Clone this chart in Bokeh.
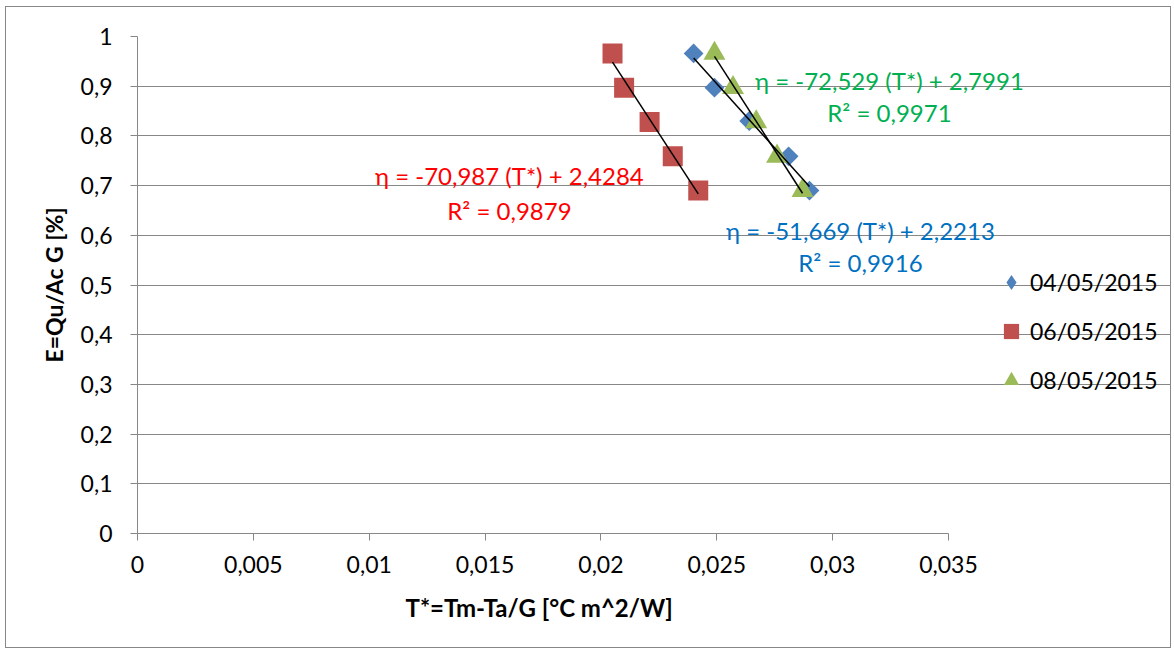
import math
import numpy as np
from bokeh.plotting import figure
from bokeh.models import (Range1d, FixedTicker, Label, Legend, LegendItem, Title)
from bokeh.embed import file_html
from bokeh.resources import INLINE

# ---------------- data ----------------
series_names = ["04/05/2015", "06/05/2015", "08/05/2015"]

x_0405 = [0.0240, 0.0249, 0.0264, 0.0281, 0.0290]
y_0405 = [0.966, 0.897, 0.830, 0.759, 0.690]

x_0605 = [0.0205, 0.0210, 0.0221, 0.0231, 0.0242]
y_0605 = [0.966, 0.897, 0.828, 0.759, 0.690]

x_0805 = [0.0249, 0.0257, 0.0267, 0.0276, 0.0287]
y_0805 = [0.966, 0.897, 0.828, 0.759, 0.690]

eq_texts = ["η = -51,669 (T*) + 2,2213", "η = -70,987 (T*) + 2,4284", "η = -72,529 (T*) + 2,7991"]
r2_texts = ["R² = 0,9916", "R² = 0,9879", "R² = 0,9971"]

x_ticks = [0, 0.005, 0.01, 0.015, 0.02, 0.025, 0.03, 0.035]
x_tick_labels = ["0", "0,005", "0,01", "0,015", "0,02", "0,025", "0,03", "0,035"]
y_ticks = [0, 0.1, 0.2, 0.3, 0.4, 0.5, 0.6, 0.7, 0.8, 0.9, 1]
y_tick_labels = ["0", "0,1", "0,2", "0,3", "0,4", "0,5", "0,6", "0,7", "0,8", "0,9", "1"]

x_title = "T*=Tm-Ta/G [°C  m^2/W]"
y_title = "E=Qu/Ac G [%]"

X_MAX = 0.035   # end of the drawn x axis
Y_MAX = 1.0

# ---------------- styles / positions ----------------
FONT = "Lato"
GRID = "#878787"
marker_colors = ["#4F81BD", "#C0504D", "#9BBB59"]
text_colors = ["#0070C0", "#FF0000", "#00B050"]
# label anchor positions (data units): (x_center, y_eq_baseline, y_r2_baseline)
label_pos = [(0.03120, 0.6097, 0.5459),
             (0.01605, 0.7203, 0.6499),
             (0.03245, 0.9115, 0.8477)]

W, H = 1166, 642
ML, MT, MB = 131, 29, 116
AXIS_PX = 811                       # pixel length of the 0..0.035 axis
frame_w = W - ML
x_end = X_MAX * frame_w / AXIS_PX   # frame extends past the axis, to hold the legend

p = figure(width=W, height=H,
           x_range=Range1d(0, x_end), y_range=Range1d(0, Y_MAX),
           output_backend="svg", toolbar_location=None,
           min_border_left=ML, min_border_right=0,
           min_border_top=MT, min_border_bottom=MB)
p.margin = (6, 0, 0, 5)
p.styles = {"border": "1px solid " + GRID}

p.outline_line_color = None
p.background_fill_color = "white"
p.border_fill_color = "white"

# axes
p.xaxis.ticker = FixedTicker(ticks=x_ticks)
p.yaxis.ticker = FixedTicker(ticks=y_ticks)
p.xaxis.bounds = (0, X_MAX)
p.xaxis.major_label_overrides = {t: l for t, l in zip(x_ticks, x_tick_labels)}
p.yaxis.major_label_overrides = {t: l for t, l in zip(y_ticks, y_tick_labels)}
for ax in (p.xaxis, p.yaxis):
    ax.axis_line_color = GRID
    ax.axis_line_width = 1
    ax.major_tick_line_color = GRID
    ax.major_tick_out = 7
    ax.major_tick_in = 0
    ax.minor_tick_line_color = None
    ax.major_label_text_font = FONT
    ax.major_label_text_font_size = "23px"
    ax.major_label_text_color = "#000000"
p.yaxis.axis_label = y_title
p.yaxis.axis_label_text_font = FONT
p.yaxis.axis_label_text_font_style = "bold"
p.yaxis.axis_label_text_font_size = "23px"
p.yaxis.axis_label_text_color = "#000000"
p.xaxis.major_label_standoff = 15
p.yaxis.major_label_standoff = 18
p.yaxis.axis_label_standoff = 10

# x-axis title, centred under the 0..0.035 axis
p.add_layout(Title(text=x_title, align="left", offset=268, standoff=30,
                   vertical_align="bottom",
                   text_font=FONT, text_font_style="bold", text_font_size="24px",
                   text_color="#000000"), "below")

p.xgrid.grid_line_color = None
p.ygrid.grid_line_color = GRID
p.ygrid.grid_line_width = 1
p.ygrid.bounds = (0, X_MAX)

# series
xs = [x_0405, x_0605, x_0805]
ys = [y_0405, y_0605, y_0805]
markers = [dict(marker="square", angle=math.pi / 4, size=14),
           dict(marker="square", angle=0, size=20),
           dict(marker="triangle", angle=0, size=22)]
legend_markers = ["diamond", "square", "triangle"]

renderers = []
for x, y, c, m in zip(xs, ys, marker_colors, markers):
    r = p.scatter(x=x, y=y, fill_color=c, line_color=c, line_width=0, **m)
    renderers.append(r)

# legend swatches (same colours; a single undrawn NaN point so only the legend shows them)
legend_renderers = []
for c, lm in zip(marker_colors, legend_markers):
    legend_renderers.append(p.scatter(x=[float("nan")], y=[float("nan")], marker=lm,
                                      fill_color=c, line_color=c, line_width=0))

# trend lines (least squares from the data)
for x, y in zip(xs, ys):
    a, b = np.polyfit(x, y, 1)
    xl = [min(x), max(x)]
    p.line(xl, [a * v + b for v in xl], line_color="black", line_width=1.5)

# equation labels
for (xc, ye, yr), eq, r2, tc in zip(label_pos, eq_texts, r2_texts, text_colors):
    p.add_layout(Label(x=xc, y=ye, text=eq, text_align="center", text_baseline="alphabetic",
                       text_font=FONT, text_font_size="24px", text_color=tc))
    p.add_layout(Label(x=xc, y=yr, text=r2, text_align="center", text_baseline="alphabetic",
                       text_font=FONT, text_font_size="24px", text_color=tc))

legend = Legend(items=[LegendItem(label=n, renderers=[r], index=0)
                       for n, r in zip(series_names, legend_renderers)],
                location=(855, 134), orientation="vertical",
                label_text_font=FONT, label_text_font_size="23px", label_text_color="#000000",
                glyph_width=38, glyph_height=38, label_height=38, spacing=11,
                label_standoff=0, padding=0, margin=0,
                border_line_color=None, background_fill_alpha=0)
p.add_layout(legend)

open("out.html", "w").write(file_html(p, INLINE))
